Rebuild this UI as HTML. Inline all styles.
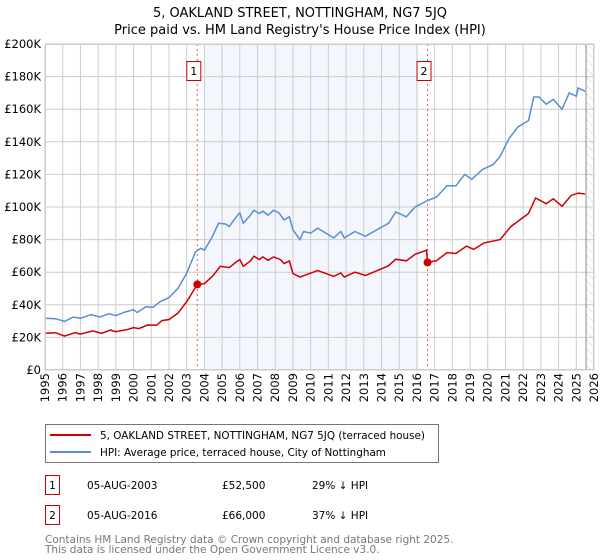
<!DOCTYPE html>
<html><head><meta charset="utf-8"><style>
body{margin:0;background:#fff;font-family:"DejaVu Sans","Liberation Sans",sans-serif;}
svg{display:block}
</style></head><body>
<svg id="c" width="600" height="560" xmlns="http://www.w3.org/2000/svg" font-family="DejaVu Sans, Liberation Sans, sans-serif">
<text x="300" y="17" text-anchor="middle" font-size="13">5, OAKLAND STREET, NOTTINGHAM, NG7 5JQ</text>
<text x="300" y="34" text-anchor="middle" font-size="13">Price paid vs. HM Land Registry's House Price Index (HPI)</text>
<defs><pattern id="hatch" width="6" height="6" patternUnits="userSpaceOnUse" patternTransform="rotate(-45)"><line x1="0" y1="0" x2="0" y2="6" stroke="#ccc" stroke-width="1"/></pattern></defs>
<g id="plot"></g>
<g>
<rect x="45.5" y="424.5" width="393" height="38" fill="#fff" stroke="#777"/>
<line x1="50" y1="435" x2="91" y2="435" stroke="#cc0000" stroke-width="2"/>
<text x="100" y="439" font-size="10.4">5, OAKLAND STREET, NOTTINGHAM, NG7 5JQ (terraced house)</text>
<line x1="50" y1="452" x2="91" y2="452" stroke="#5b8dd1" stroke-width="2"/>
<text x="100" y="456" font-size="10.4">HPI: Average price, terraced house, City of Nottingham</text>
</g>
<g font-size="10.5">
<rect x="45.5" y="475.5" width="14" height="19" fill="#fff" stroke="#cc0000"/>
<text x="52.5" y="489" text-anchor="middle">1</text>
<text x="87" y="489">05-AUG-2003</text><text x="222" y="489">£52,500</text><text x="312" y="489">29% ↓ HPI</text>
<rect x="45.5" y="505.5" width="14" height="19" fill="#fff" stroke="#cc0000"/>
<text x="52.5" y="519" text-anchor="middle">2</text>
<text x="87" y="519">05-AUG-2016</text><text x="222" y="519">£66,000</text><text x="312" y="519">37% ↓ HPI</text>
</g>
<text x="45" y="543" font-size="10.5" fill="#777">Contains HM Land Registry data © Crown copyright and database right 2025.</text>
<text x="45" y="553" font-size="10.5" fill="#777">This data is licensed under the Open Government Licence v3.0.</text>
</svg>
<script>
const yTicks=[0,20,40,60,80,100,120,140,160,180,200];
const yTickLabels=["£0","£20K","£40K","£60K","£80K","£100K","£120K","£140K","£160K","£180K","£200K"];
const xYears=[1995,1996,1997,1998,1999,2000,2001,2002,2003,2004,2005,2006,2007,2008,2009,2010,2011,2012,2013,2014,2015,2016,2017,2018,2019,2020,2021,2022,2023,2024,2025,2026];
const hpiT=[1995,1995.6,1996.1,1996.6,1997,1997.6,1998.1,1998.6,1999,1999.5,2000,2000.2,2000.7,2001.1,2001.5,2002,2002.5,2003,2003.5,2003.8,2004,2004.4,2004.8,2005.2,2005.4,2005.8,2006,2006.2,2006.6,2006.8,2007.1,2007.3,2007.6,2007.9,2008.2,2008.5,2008.8,2009,2009.4,2009.6,2010,2010.4,2011.3,2011.7,2011.9,2012.5,2013.1,2013.9,2014.4,2014.8,2015.4,2015.9,2016.6,2017.1,2017.7,2018.2,2018.7,2019.1,2019.7,2020.3,2020.7,2021.2,2021.7,2022.3,2022.6,2022.9,2023.3,2023.7,2024.2,2024.6,2025,2025.1,2025.5];
const hpiV=[31.7,31.5,29.8,32.5,31.7,34,32.5,34.5,33.4,35.5,37,35.3,38.8,38.4,41.9,44.4,50,59.3,72.6,74.6,73.6,80.8,90,89.6,88,94,96.5,90,95,98,96,97.5,95,98,96.5,92,94,86,80,85,84,87,81,85,81,85,82,87,90,97,94,100,104,106,113,113,120,117,123,126,131,142,149,153,167.5,167.5,163,166,160,170,168,173,171];
const ppT=[1995,1995.6,1996.1,1996.7,1997,1997.7,1998.2,1998.7,1999,1999.7,2000,2000.3,2000.8,2001.3,2001.6,2002,2002.5,2003,2003.6,2004,2004.5,2004.9,2005.4,2005.8,2006,2006.2,2006.6,2006.8,2007.1,2007.3,2007.6,2007.9,2008.3,2008.5,2008.8,2009,2009.4,2010.4,2011.3,2011.7,2011.9,2012.5,2013.1,2013.9,2014.4,2014.8,2015.4,2015.9,2016.55,2016.6,2017.1,2017.7,2018.2,2018.8,2019.2,2019.8,2020.7,2021.3,2022.3,2022.7,2023.3,2023.7,2024.2,2024.7,2025.1,2025.5];
const ppV=[22.5,22.9,20.8,22.9,22,24,22.5,24.5,23.5,25,26,25.4,27.6,27.4,30.3,31,34.8,41.9,52.5,53,58,63.6,62.8,66.3,67.7,63.6,66.9,69.8,67.7,69.4,67.3,69.4,67.7,65.3,66.9,59.2,57,61,57.5,59.5,57,60,58,61.6,64,68,67,71,73.5,66,67,72,71.5,76,74,78,80,88,96,105.5,102,105,100.5,107,108.5,108];
const saleT=[2003.6,2016.6];
const saleV=[52.5,66];
const saleLabels=["1","2"];

const NS="http://www.w3.org/2000/svg";
const L=45,R=594,T=44,B=370;
const x=t=>L+(t-1995)/31*(R-L);
const y=v=>B-v/200*(B-T);
const g=document.getElementById('plot');
function mk(tag,attrs,parent){const e=document.createElementNS(NS,tag);for(const k in attrs)e.setAttribute(k,attrs[k]);(parent||g).appendChild(e);return e;}
let band=mk('rect',{x:x(2004.0),y:T,width:x(2016.1)-x(2004.0),height:B-T,fill:'#eef3fc',opacity:0.7});


let hat=mk('rect',{x:x(2025.55),y:T,width:R-x(2025.55),height:B-T,fill:'url(#hatch)'});


yTicks.forEach((v,i)=>{
  let l=mk('line',{x1:L,x2:R,y1:y(v),y2:y(v),stroke:'#ccc','stroke-width':1});
  
  
  let t=mk('text',{x:L-4,y:y(v)+4,'text-anchor':'end','font-size':11.5});
  
  
  t.textContent=yTickLabels[i];
});
xYears.forEach(yr=>{
  let l=mk('line',{x1:x(yr),x2:x(yr),y1:T,y2:B,stroke:'#ccc','stroke-width':1});
  
  
  let t=mk('text',{x:0,y:0,'text-anchor':'end','font-size':11.5,transform:`translate(${x(yr)+4},${B+3}) rotate(-90)`});
  
  
  t.textContent=yr;
});
let vl=mk('line',{x1:x(2025.55),x2:x(2025.55),y1:T,y2:B,stroke:'#888','stroke-width':1});


saleT.forEach((t,i)=>{
  let l=mk('line',{x1:x(t),x2:x(t),y1:T,y2:B,stroke:'#e06060','stroke-width':1,'stroke-dasharray':'2,3'});
  
  
});
function pts(ts,vs){return ts.map((t,i)=>x(t).toFixed(1)+','+y(vs[i]).toFixed(1)).join(' ');}
let h=mk('polyline',{points:pts(hpiT,hpiV),fill:'none',stroke:'#5b8dd1','stroke-width':1.5});


let p=mk('polyline',{points:pts(ppT,ppV),fill:'none',stroke:'#cc0000','stroke-width':1.5});


saleT.forEach((t,i)=>{
  let c=mk('circle',{cx:x(t),cy:y(saleV[i]),r:4,fill:'#cc0000'});
  
  
  let b=mk('rect',{x:x(t)-10.5,y:61.5,width:14,height:19,fill:'#fff',stroke:'#cc0000'});
  
  
  let tx=mk('text',{x:x(t)-3.5,y:75,'text-anchor':'middle','font-size':11});
  
  
  tx.textContent=saleLabels[i];
});
let fr=mk('rect',{x:L+0.5,y:T+0.5,width:R-L-1,height:B-T-1,fill:'none',stroke:'#ccc'});


</script>
</body></html>
